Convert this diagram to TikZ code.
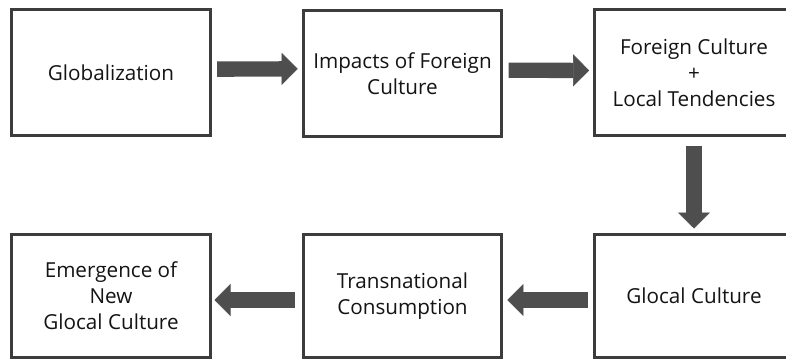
\documentclass[tikz,border=0pt]{standalone}
\usepackage{fontspec}
\setmainfont{Open Sans}
\usetikzlibrary{arrows.meta}

\definecolor{boxline}{RGB}{60,60,60}
\definecolor{arrowgray}{RGB}{78,78,78}
\definecolor{txt}{RGB}{20,20,20}

\tikzset{every picture/.style={line width=0.75pt}}
\tikzset{
  stagebox/.style={draw=boxline, line width=2.25pt, fill=white, minimum width=149pt, minimum height=94.5pt,
    inner sep=0pt, align=center, text=txt, font=\fontsize{15.5}{19.5}\selectfont},
  fatarrow/.style={draw=arrowgray, line width=11.5pt,
    -{Triangle[length=12pt, width=24pt, line width=0.4pt]}, shorten <=4pt, shorten >=3pt}
}

\begin{document}
\begin{tikzpicture}[x=0.75pt,y=0.75pt,yscale=-1,xscale=1]
\useasboundingbox (0,0) rectangle (786,360);
\clip (0,0) rectangle (786,360);

%Shape: Rectangle, top row
\node [stagebox] (glob) at (111,72.5) {Globalization};
\node [stagebox] (impact) at (402.5,73.5) {Impacts of Foreign\\Culture};
\node [stagebox] (foreign) at (694,72.5) {Foreign Culture\\+\\Local Tendencies};

%Shape: Rectangle, bottom row
\node [stagebox, minimum height=92pt] (glocal) at (694,296) {Glocal Culture};
\node [stagebox, minimum height=92pt] (transnat) at (402.5,296) {Transnational\\Consumption};
\node [stagebox, minimum height=92pt] (emerge) at (111,296) {Emergence of\\New\\Glocal Culture};

%Block Arrows
\draw [fatarrow] ([yshift=-2.5]glob.east) -- ([yshift=-3.5]impact.west);
\draw [fatarrow] ([yshift=-2.5]impact.east) -- ([yshift=-1.5]foreign.west);
\draw [fatarrow, shorten <=7pt, shorten >=3.5pt] (foreign.south) -- (glocal.north);
\draw [fatarrow] ([yshift=3]glocal.west) -- ([yshift=3]transnat.east);
\draw [fatarrow, shorten <=5pt, shorten >=2pt] ([yshift=3]transnat.west) -- ([yshift=3]emerge.east);

\end{tikzpicture}
\end{document}
